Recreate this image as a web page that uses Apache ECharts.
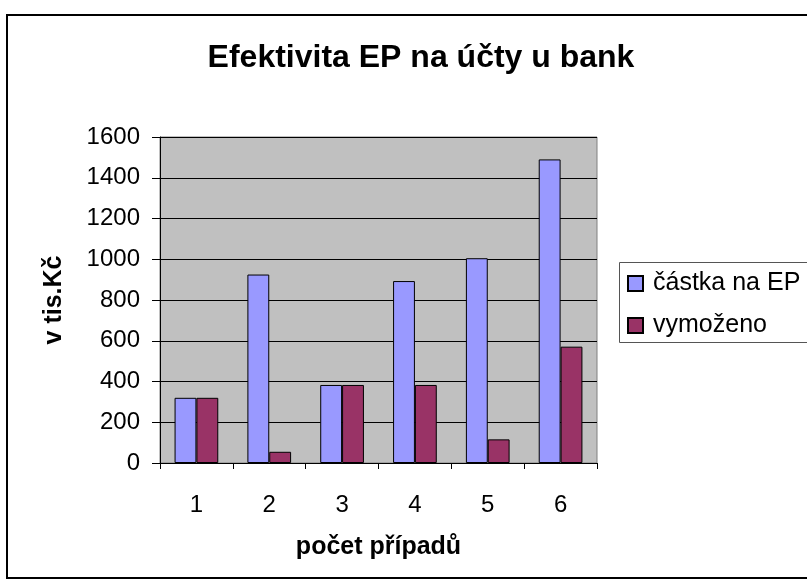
<!DOCTYPE html>
<html lang="cs">
<head>
    <meta charset="UTF-8">
    <title>Efektivita EP na účty u bank</title>
    <script src="https://cdn.jsdelivr.net/npm/echarts@6/dist/echarts.min.js"></script>
    <style>
        body { margin: 0; background: #fff; }
        #frame { position: absolute; left: 6px; top: 14px; width: 820px; height: 565px; border: 2px solid #000; box-sizing: border-box; }
        #chart { position: absolute; left: 0; top: 0; width: 807px; height: 585px; }
    </style>
</head>
<body>
    <div id="frame"></div>
    <div id="chart"></div>
    <script>
        // data
        const categories = ['1', '2', '3', '4', '5', '6'];
        const castka = [320, 925, 383, 893, 1005, 1490];
        const vymozeno = [320, 55, 383, 383, 116, 571];

        const font = 'Liberation Sans, Arial, sans-serif';
        const chart = echarts.init(document.getElementById('chart'));
        chart.setOption({
            animation: false,
            title: {
                text: 'Efektivita EP na účty u bank',
                left: 416, top: 37, textAlign: 'center',
                textStyle: { fontFamily: font, fontSize: 32, fontWeight: 'bold', color: '#000' }
            },
            grid: { left: 160, right: 210, top: 137, bottom: 122, show: true, backgroundColor: '#c0c0c0', borderColor: '#808080', borderWidth: 1 },
            legend: {
                orient: 'vertical', left: 627, top: 271, padding: 0,
                itemWidth: 15, itemHeight: 15, itemGap: 17, icon: 'rect',
                textStyle: { fontFamily: font, fontSize: 25, color: '#000', padding: [0, 0, 0, 5] },
                data: ['částka na EP', 'vymoženo']
            },
            graphic: [{
                type: 'rect', left: 617, top: 260,
                shape: { width: 200, height: 80 },
                style: { fill: 'none', stroke: '#555', lineWidth: 1 }
            }],
            xAxis: {
                type: 'category', data: categories,
                name: 'počet případů', nameLocation: 'middle', nameGap: 72,
                nameTextStyle: { fontFamily: font, fontSize: 25, fontWeight: 'bold', color: '#000' },
                axisLine: { lineStyle: { color: '#000' } },
                axisTick: { show: true, length: 6, lineStyle: { color: '#000' } },
                axisLabel: { fontFamily: font, fontSize: 24, color: '#000', margin: 30 }
            },
            yAxis: {
                type: 'value', min: 0, max: 1600, interval: 200,
                name: 'v tis.Kč', nameLocation: 'middle', nameGap: 93,
                nameTextStyle: { fontFamily: font, fontSize: 25, fontWeight: 'bold', color: '#000' },
                axisLine: { show: true, lineStyle: { color: '#000' } },
                axisTick: { show: true, length: 8, lineStyle: { color: '#000' } },
                axisLabel: { fontFamily: font, fontSize: 24, color: '#000', margin: 20, formatter: v => String(v) },
                splitLine: { lineStyle: { color: '#000', width: 1 } }
            },
            series: [
                {
                    name: 'částka na EP', type: 'bar', data: castka,
                    barGap: '0%', barCategoryGap: '40%',
                    itemStyle: { color: '#9999ff', borderColor: '#000', borderWidth: 1 }
                },
                {
                    name: 'vymoženo', type: 'bar', data: vymozeno,
                    itemStyle: { color: '#993366', borderColor: '#000', borderWidth: 1 }
                }
            ]
        });
    </script>
</body>
</html>
